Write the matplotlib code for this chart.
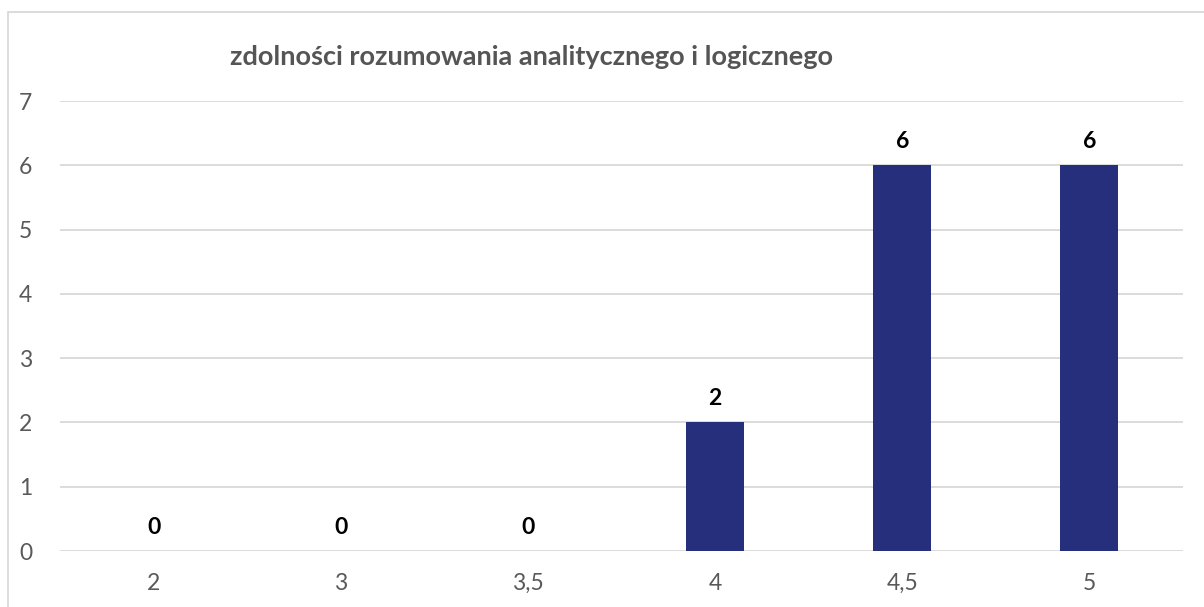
import matplotlib.pyplot as plt
from matplotlib.patches import Rectangle
import numpy as np

categories = ["2", "3", "3,5", "4", "4,5", "5"]
values = [0, 0, 0, 2, 6, 6]
title = "zdolności rozumowania analitycznego i logicznego"

plt.rcParams['font.family'] = ['Lato', 'DejaVu Sans']

fig = plt.figure(figsize=(12.04, 6.07), dpi=100)
ax = fig.add_axes([60 / 1204, 56 / 607, 1123 / 1204, 450 / 607])

x = np.arange(len(categories))
bars = ax.bar(x, values, width=0.31, color='#262f7b', zorder=3)

ax.set_xlim(-0.5, len(categories) - 0.5)
ax.set_ylim(0, 7)
ax.set_yticks(range(0, 8))
ax.set_xticks(x)
ax.set_xticklabels(categories)
ax.tick_params(axis='both', length=0, labelsize=16.5, colors='#595959')
ax.tick_params(axis='x', pad=16)
ax.tick_params(axis='y', pad=20)
ax.grid(axis='y', color='#d9d9d9', linewidth=1.3, zorder=0)
for s in ax.spines.values():
    s.set_visible(False)

for xi, v in zip(x, values):
    ax.annotate(str(v), (xi, v), xytext=(0, 9.5), textcoords='offset points',
                ha='center', va='bottom', fontsize=16.5, fontweight='bold', color='black')

fig.text(531 / 1204, 1 - 57 / 607, title, ha='center', va='center',
         fontsize=19.5, fontweight='bold', color='#555555')

fig.patches.append(Rectangle((8 / 1204, -0.1), 1.2, 1 - 12 / 607 + 0.1,
                             transform=fig.transFigure, fill=False,
                             edgecolor='#d9d9d9', linewidth=1.3))

fig.savefig("out.png", dpi=100)
